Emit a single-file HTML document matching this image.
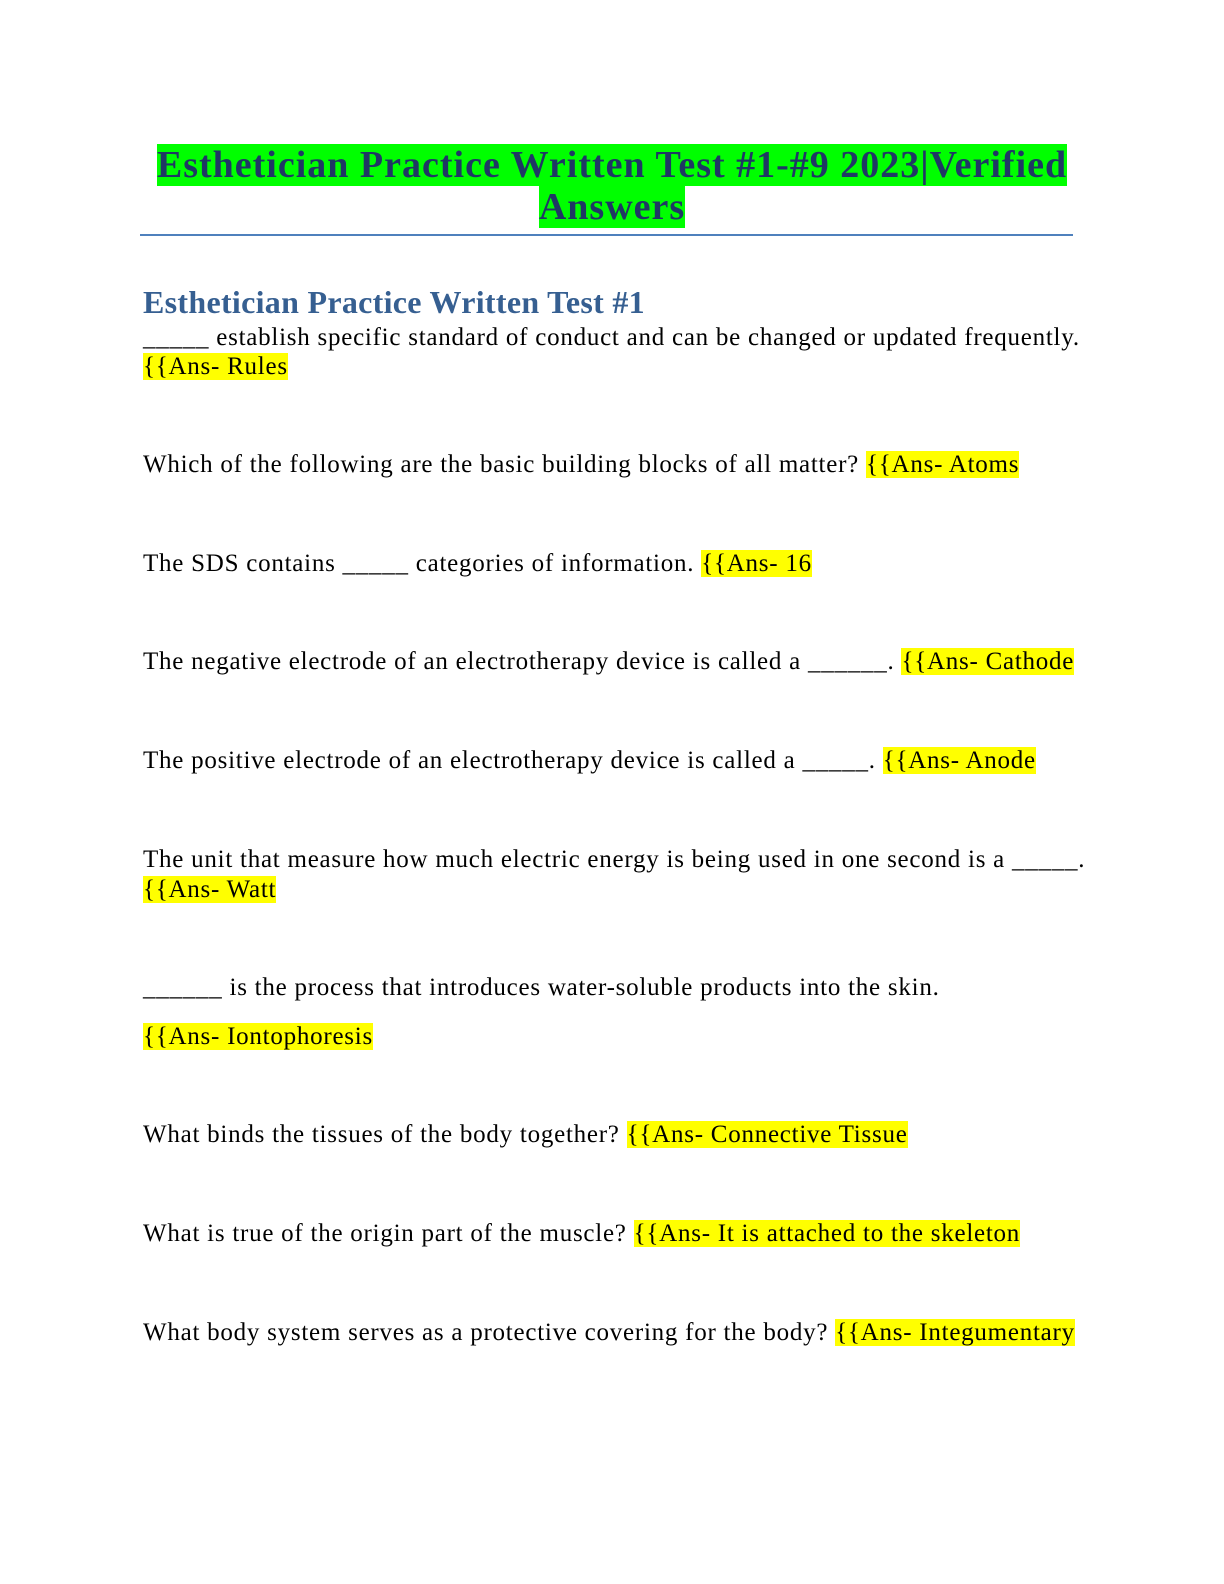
<!DOCTYPE html>
<html><head><meta charset="utf-8"><style>
body{margin:0;width:1224px;height:1584px;background:#fff;position:relative;font-family:"Liberation Serif","DejaVu Serif",serif;}
.t{position:absolute;left:0;width:1224px;text-align:center;font-weight:bold;font-size:38px;letter-spacing:1px;color:#1f3864;line-height:42px;}
.t span{background:#00ff00;}
.l{position:absolute;left:143px;font-size:25px;line-height:30px;color:#000;white-space:nowrap;letter-spacing:0.75px;}
.h{background:#ffff00;}
.hd{position:absolute;left:143px;top:283px;font-size:32px;letter-spacing:0.3px;font-weight:bold;color:#365f91;line-height:38px;}
</style></head><body>
<div class="t" style="top:144px"><span>Esthetician Practice Written Test #1-#9 2023|Verified</span></div>
<div class="t" style="top:186px"><span>Answers</span></div>
<div style="position:absolute;left:140px;top:234px;width:933px;height:2px;background:#4f81bd"></div>
<div class="hd">Esthetician Practice Written Test #1</div>
<div class="l" style="top:323px">_____ establish specific standard of conduct and can be changed or updated frequently.</div>
<div class="l" style="top:352px"><span class="h">{{Ans- Rules</span></div>
<div class="l" style="top:450px">Which of the following are the basic building blocks of all matter? <span class="h">{{Ans- Atoms</span></div>
<div class="l" style="top:549px">The SDS contains _____ categories of information. <span class="h">{{Ans- 16</span></div>
<div class="l" style="top:647px">The negative electrode of an electrotherapy device is called a ______. <span class="h">{{Ans- Cathode</span></div>
<div class="l" style="top:746px">The positive electrode of an electrotherapy device is called a _____. <span class="h">{{Ans- Anode</span></div>
<div class="l" style="top:845px">The unit that measure how much electric energy is being used in one second is a _____.</div>
<div class="l" style="top:875px"><span class="h">{{Ans- Watt</span></div>
<div class="l" style="top:973px">______ is the process that introduces water-soluble products into the skin.</div>
<div class="l" style="top:1022px"><span class="h">{{Ans- Iontophoresis</span></div>
<div class="l" style="top:1120px">What binds the tissues of the body together? <span class="h">{{Ans- Connective Tissue</span></div>
<div class="l" style="top:1219px">What is true of the origin part of the muscle? <span class="h">{{Ans- It is attached to the skeleton</span></div>
<div class="l" style="top:1318px">What body system serves as a protective covering for the body? <span class="h">{{Ans- Integumentary</span></div>
</body></html>
